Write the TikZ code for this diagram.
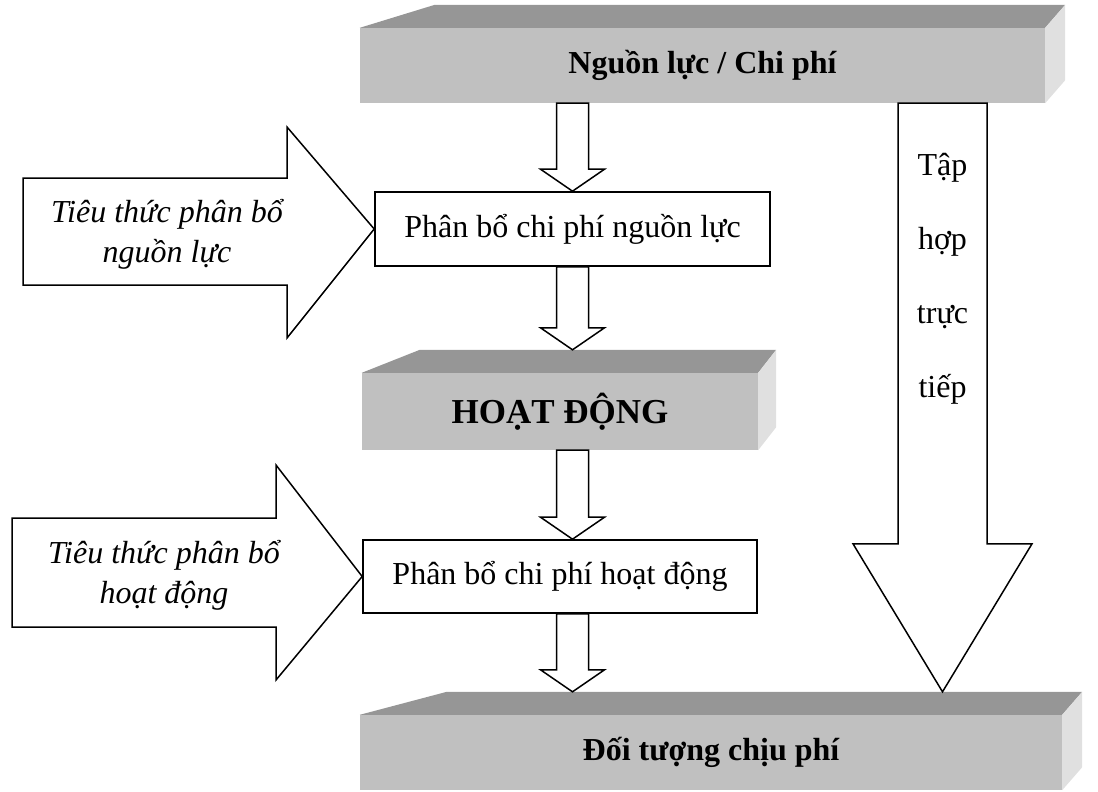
\documentclass[tikz,border=0pt]{standalone}
\usepackage{fontspec}
\setmainfont{Liberation Serif}
\usetikzlibrary{positioning,calc}
\definecolor{colortop}  {RGB}{150,150,150}
\definecolor{colorfront}{RGB}{192,192,192}
\definecolor{colorside} {RGB}{224,224,224}
\definecolor{colortext} {RGB}{0  ,0  ,0  }

% faces of a grey slab: node, left shift of the top face, right depth
\newcommand{\slabfaces}[3]{%
    \fill[colortop] (#1.north west) -- ++(#2,-23) -- ([shift={(#3,-23)}]#1.north east) -- (#1.north east) -- cycle;
    \fill[colorside] (#1.north east) -- ++(#3,-23) -- ([shift={(#3,-23)}]#1.south east) -- (#1.south east) -- cycle;
    \coordinate (#1-top) at ([yshift=23pt]#1.north);
}
% hollow block arrow pointing down: start, tip, body half width, head half width, head length
\newcommand{\blockdown}[5]{%
    \draw[blockarrow] let \p1=(#1), \p2=(#2) in
        (\x1-#3pt,\y1) -- (\x1-#3pt,\y2+#5pt) -- (\x1-#4pt,\y2+#5pt) -- (\x1,\y2)
        -- (\x1+#4pt,\y2+#5pt) -- (\x1+#3pt,\y2+#5pt) -- (\x1+#3pt,\y1) -- cycle;
}

\begin{document}
\begin{tikzpicture}[
    x=1pt, y=-1pt,
    slab/.style={fill=colorfront,inner sep=0pt,text=colortext,font={\fontsize{32}{38}\selectfont\bfseries}},
    stepbox/.style={draw=colortext,line width=1.6pt,fill=white,inner sep=0pt,text=colortext,font={\fontsize{32}{38}\selectfont}},
    blockarrow/.style={draw=colortext,line width=1.5pt,fill=white},
    hint/.style={text=colortext,align=center,font={\fontsize{32}{40}\selectfont\itshape}},
]
    \useasboundingbox (0,0) rectangle (1098,792);

    % Slabs
    \node[slab,minimum width=685pt,minimum height=75pt] at (702.5,65.5) (cost) {Nguồn lực / Chi phí};
    \slabfaces{cost}{75}{20}
    \node[slab,minimum width=396pt,minimum height=77pt,font={\fontsize{35}{40}\selectfont\bfseries}] at (560,411.5) (act) {HOẠT ĐỘNG};
    \slabfaces{act}{58}{18}
    \node[slab,minimum width=702pt,minimum height=75pt] at (711,752.5) (obj) {Đối tượng chịu phí};
    \slabfaces{obj}{87}{20}

    % Allocation steps
    \node[stepbox,minimum width=395pt,minimum height=74pt] at (572.5,229) (alloc1) {Phân bổ chi phí nguồn lực};
    \node[stepbox,minimum width=394pt,minimum height=73pt] at (560,576.5) (alloc2) {Phân bổ chi phí hoạt động};

    % Flow down
    \blockdown{alloc1 |- cost.south}{alloc1.north}{16}{32}{22}
    \blockdown{alloc1.south}{alloc1 |- act-top}{16}{32}{22}
    \blockdown{alloc1 |- act.south}{alloc1 |- alloc2.north}{16}{32}{22}
    \blockdown{alloc1 |- alloc2.south}{alloc1 |- obj-top}{16}{32}{22}

    % Direct assignment
    \coordinate (axis) at (942.5,400);
    \blockdown{axis |- cost.south}{axis |- obj-top}{44.5}{89.5}{148}
    \node[text=colortext,align=center,font={\fontsize{32}{74}\selectfont}] at (942.5,279) (direct) {Tập\\hợp\\trực\\tiếp};

    % Drivers
    \draw[blockarrow] (23,178) -- (287,178) -- (287,127) -- (alloc1.west) -- (287,338) -- (287,285) -- (23,285) -- cycle;
    \node[hint] at (167,234) (driver1) {Tiêu thức phân bổ\\nguồn lực};
    \draw[blockarrow] (12,518) -- (276,518) -- (276,465) -- (alloc2.west) -- (276,680) -- (276,627) -- (12,627) -- cycle;
    \node[hint] at (164,575) (driver2) {Tiêu thức phân bổ\\hoạt động};

\end{tikzpicture}
\end{document}
